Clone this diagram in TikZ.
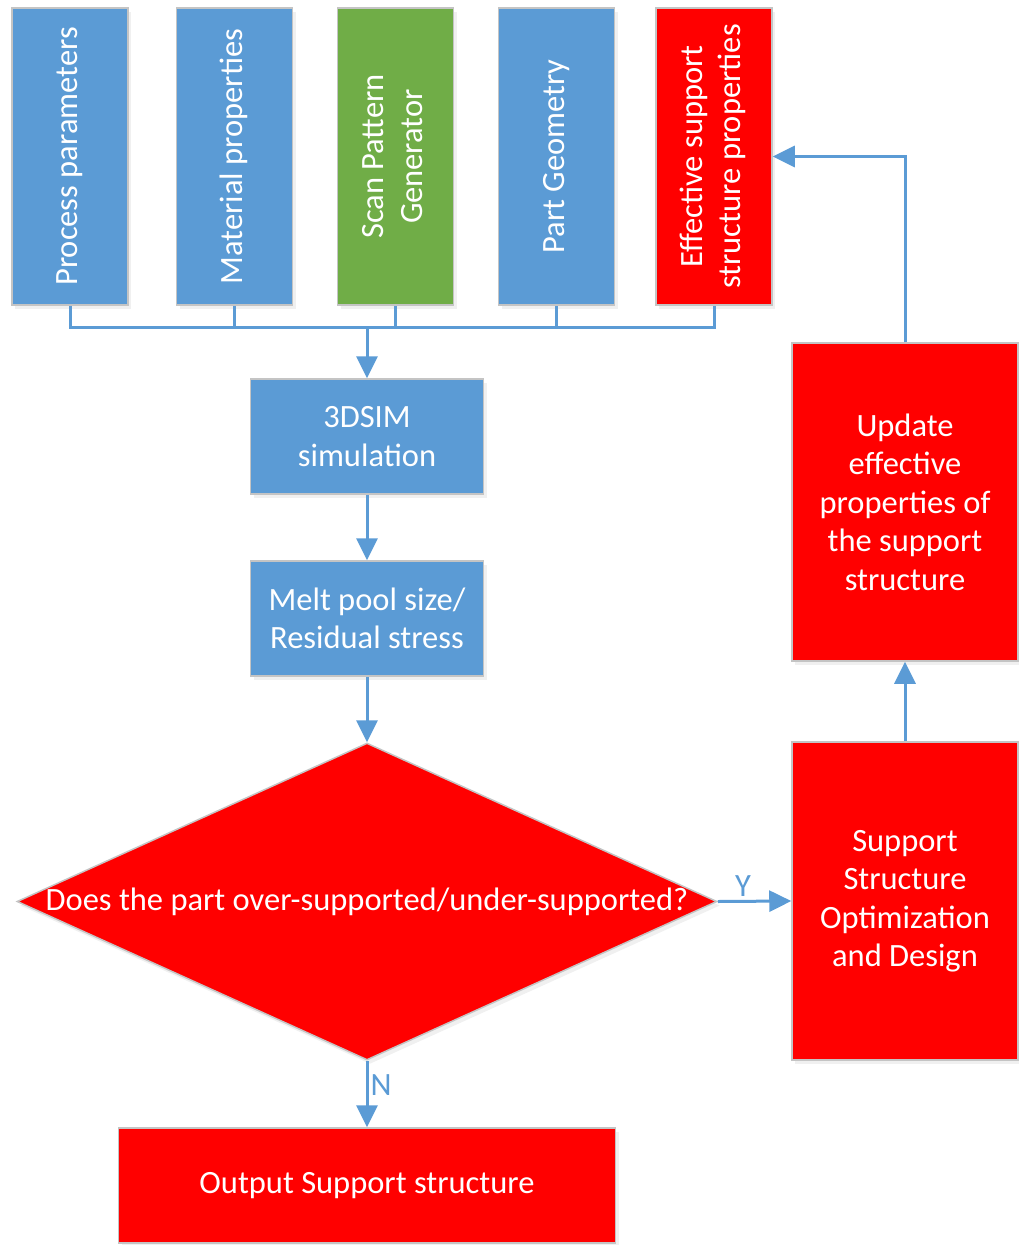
\documentclass[tikz,border=0pt]{standalone}
\usepackage{fontspec}
\setmainfont{Carlito}
\usetikzlibrary{arrows.meta,shapes.geometric,shadows}
\definecolor{boxblue}{HTML}{5B9BD5}
\definecolor{boxgreen}{HTML}{70AD47}
\definecolor{boxred}{HTML}{FF0000}
\definecolor{edgegray}{HTML}{C4C4C4}
\definecolor{linkblue}{HTML}{5B9BD5}
\tikzset{
  box/.style={draw=edgegray,line width=1.5pt,text=white,align=center,
    inner sep=0pt,drop shadow={opacity=0.12,shadow xshift=3pt,
    shadow yshift=-4pt}},
  inbox/.style={box,minimum width=116pt,minimum height=297pt},
  stepbox/.style={box,fill=boxblue,minimum width=233pt,minimum height=115pt},
  sidebox/.style={box,fill=boxred,minimum width=226pt,minimum height=318pt},
  link/.style={draw=linkblue,line width=3pt},
  flow/.style={link,-{Triangle[length=22pt,width=21pt]}},
  linklabel/.style={text=linkblue,inner sep=0pt}
}
\newcommand{\vtext}[1]{\rotatebox{90}{\begin{tabular}{@{}c@{}}#1\end{tabular}}}
\begin{document}
\begin{tikzpicture}[x=1pt,y=-1pt,font=\fontsize{32.5}{38.5}\selectfont]
    \useasboundingbox (0,0) rectangle (1018,1245);
    \node[inbox,fill=boxblue] (proc) at (70,156.5)
      {\vtext{Process parameters}};
    \node[inbox,fill=boxblue] (mat) at (234.5,156.5)
      {\vtext{Material properties}};
    \node[inbox,fill=boxgreen] (scan) at (395.5,156.5)
      {\vtext{Scan Pattern\\Generator}};
    \node[inbox,fill=boxblue] (geo) at (556.5,156.5)
      {\vtext{Part Geometry}};
    \node[inbox,fill=boxred] (eff) at (714,156.5)
      {\vtext{Effective support\\structure properties}};
    \coordinate (bus) at (367,327);
    \node[stepbox] (sim) at (367,436.5) {3DSIM\\simulation};
    \node[stepbox] (melt) at (367,618.5)
      {Melt pool size/\\Residual stress};
    \node[box,fill=boxred,shape=diamond,minimum width=700pt,
      minimum height=317pt] (dec) at (367,901.5) {};
    \node[text=white,inner sep=0pt] (dectext) at (dec.center)
      {Does the part over-supported/under-supported?};
    \node[sidebox] (supp) at (905,901)
      {Support\\Structure\\Optimization\\and Design};
    \node[sidebox] (upd) at (905,502)
      {Update\\effective\\properties of\\the support\\structure};
    \node[box,fill=boxred,minimum width=497pt,minimum height=115pt]
      (out) at (367,1185.5) {Output Support structure};
    \draw[link] (proc.south) |- (bus);
    \draw[link] (mat.south) |- (bus);
    \draw[link] (scan.south) |- (bus);
    \draw[link] (geo.south) |- (bus);
    \draw[link] (eff.south) |- (bus);
    \draw[flow] (bus) -- (sim.north);
    \draw[flow] (sim.south) -- (melt.north);
    \draw[flow] (melt.south) -- (dec.north);
    \draw[flow] (dec.east) -- (supp.west);
    \node[linklabel] (ylab) at (743,886) {Y};
    \draw[flow] (dec.south) -- (out.north);
    \node[linklabel] (nlab) at (381,1085) {N};
    \draw[flow] (supp.north) -- (upd.south);
    \draw[flow] (upd.north) |- (eff.east);
  \end{tikzpicture}
\end{document}
